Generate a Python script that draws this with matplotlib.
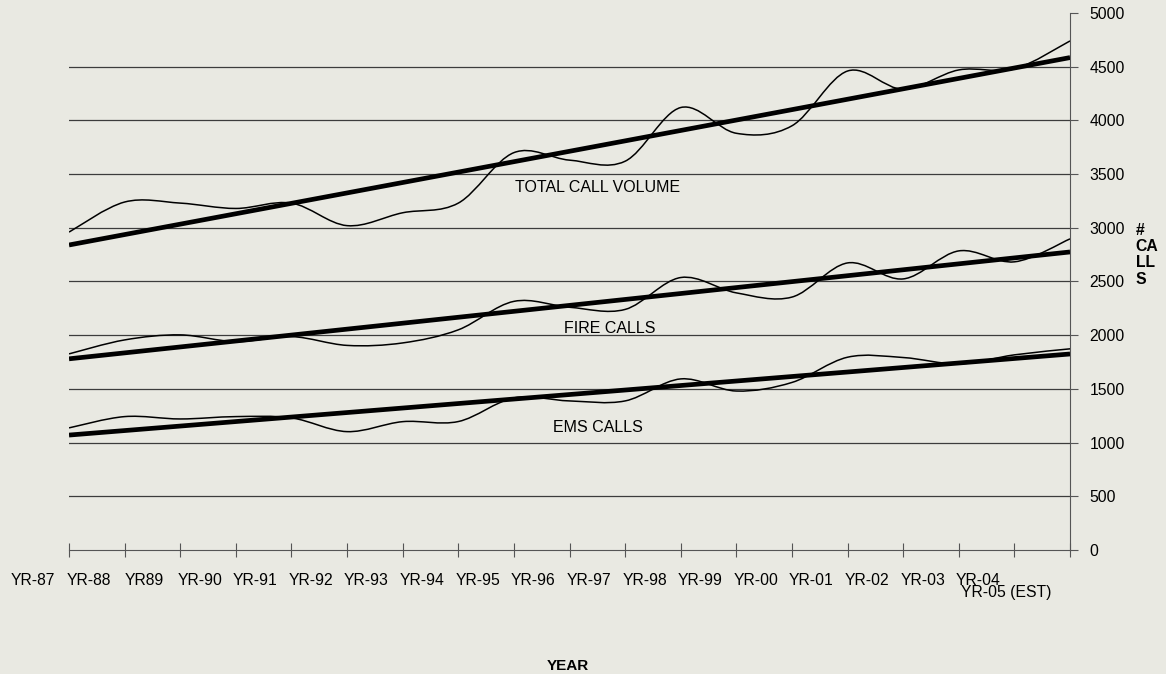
import matplotlib
matplotlib.use('Agg')
import matplotlib.pyplot as plt
from matplotlib.path import Path
from matplotlib.patches import PathPatch

plt.rcParams['font.family'] = ['Liberation Sans', 'DejaVu Sans']

# data (calls per year)
years = ['YR-87', 'YR-88', 'YR89', 'YR-90', 'YR-91', 'YR-92', 'YR-93', 'YR-94',
         'YR-95', 'YR-96', 'YR-97', 'YR-98', 'YR-99', 'YR-00', 'YR-01', 'YR-02',
         'YR-03', 'YR-04', 'YR-05 (EST)']
total_calls = [2960, 3240, 3230, 3180, 3230, 3020, 3140, 3230, 3700, 3630,
               3620, 4120, 3880, 3950, 4460, 4290, 4470, 4480, 4740]
fire_calls = [1826, 1956, 2003, 1940, 1987, 1905, 1928, 2050, 2315, 2260,
              2240, 2537, 2394, 2355, 2673, 2524, 2785, 2683, 2897]
ems_calls = [1137, 1242, 1220, 1242, 1230, 1102, 1195, 1196, 1416, 1388,
             1388, 1593, 1480, 1560, 1795, 1792, 1733, 1817, 1873]
# linear trend lines, value at first and last year
trend_total = [2840, 4585]
trend_fire = [1780, 2775]
trend_ems = [1070, 1825]

bg = '#e9e9e2'


def smooth_path(xs, ys):
    # smoothed line like a spreadsheet chart (bezier through the points)
    n = len(xs)
    verts = [(xs[0], ys[0])]
    codes = [Path.MOVETO]
    for i in range(n - 1):
        x0, y0 = xs[max(i - 1, 0)], ys[max(i - 1, 0)]
        x1, y1 = xs[i], ys[i]
        x2, y2 = xs[i + 1], ys[i + 1]
        x3, y3 = xs[min(i + 2, n - 1)], ys[min(i + 2, n - 1)]
        verts.append((x1 + (x2 - x0) / 6, y1 + (y2 - y0) / 6))
        verts.append((x2 - (x3 - x1) / 6, y2 - (y3 - y1) / 6))
        verts.append((x2, y2))
        codes += [Path.CURVE4] * 3
    return Path(verts, codes)


fig = plt.figure(figsize=(11.66, 6.74), dpi=100, facecolor=bg)
ax = fig.add_axes([0.0592, 0.184, 0.8585, 0.7967], facecolor=bg)

x = list(range(len(years)))

for v in range(500, 5000, 500):
    ax.axhline(v, color='#3c3c3c', lw=0.9, zorder=1)

for series in (total_calls, fire_calls, ems_calls):
    ax.add_patch(PathPatch(smooth_path(x, series), fill=False,
                           edgecolor='black', lw=1.1, zorder=3))

for tr in (trend_total, trend_fire, trend_ems):
    ax.plot([x[0], x[-1]], tr, color='black', lw=3.4,
            solid_capstyle='butt', zorder=4)

ax.set_xlim(0, len(years) - 1)
ax.set_ylim(0, 5000)

for s in ('left', 'top'):
    ax.spines[s].set_visible(False)
ax.spines['right'].set_color('#555555')
ax.spines['bottom'].set_color('#555555')

ax.yaxis.tick_right()
ax.set_yticks(range(0, 5001, 500))
ax.tick_params(axis='y', direction='out', length=6, width=0.8,
               color='#555555', pad=8, labelsize=11.3)
ax.set_xticks(x)
ax.set_xticklabels([])
ax.tick_params(axis='x', direction='inout', length=10, width=0.8,
               color='#555555')

# year labels sit left of the ticks, last one drops to a second line
for i, lab in enumerate(years[:-1]):
    ax.text(i - 0.65, -0.056, lab, transform=ax.get_xaxis_transform(),
            ha='center', va='center', fontsize=11.3)
ax.text(16.86, -0.08, years[-1], transform=ax.get_xaxis_transform(),
        ha='center', va='center', fontsize=11.3)

ax.text(9.5, 3372, 'TOTAL CALL VOLUME', ha='center', va='center', fontsize=11.5)
ax.text(9.73, 2059, 'FIRE CALLS', ha='center', va='center', fontsize=11.5)
ax.text(9.51, 1137, 'EMS CALLS', ha='center', va='center', fontsize=11.5)

fig.text(0.974, 0.622, '#\nCA\nLL\nS', ha='left', va='center',
         fontsize=11.3, fontweight='bold', linespacing=1.1)
fig.text(0.487, 0.012, 'YEAR', ha='center', va='center',
         fontsize=11, fontweight='bold')

fig.savefig('out.png', dpi=100, facecolor=bg)
